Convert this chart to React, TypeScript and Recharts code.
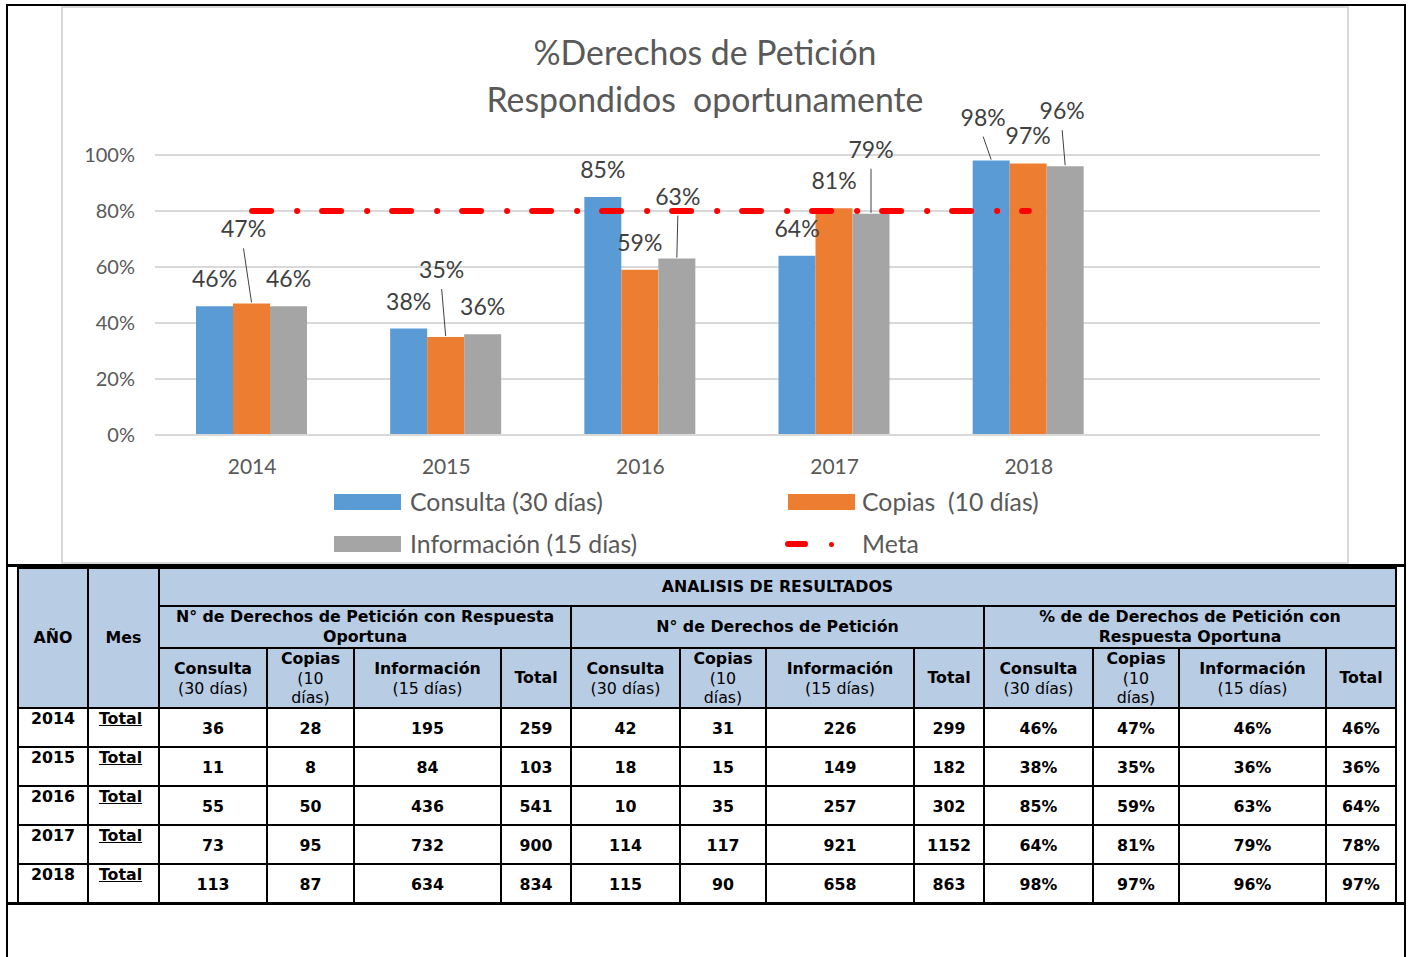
import React from 'react';
import {
  BarChart,
  Bar,
  Line,
  XAxis,
  YAxis,
  CartesianGrid,
  LabelList,
} from 'recharts';

const years = ['2014', '2015', '2016', '2017', '2018'];
const consultaPct = [46, 38, 85, 64, 98];
const copiasPct = [47, 35, 59, 81, 97];
const infoPct = [46, 36, 63, 79, 96];
const totalPct = [46, 36, 64, 78, 97];
const metaPct = 80;
const yTicks = [0, 0.2, 0.4, 0.6, 0.8, 1];

const respConsulta = [36, 11, 55, 73, 113];
const respCopias = [28, 8, 50, 95, 87];
const respInfo = [195, 84, 436, 732, 634];
const respTotal = [259, 103, 541, 900, 834];
const petConsulta = [42, 18, 10, 114, 115];
const petCopias = [31, 15, 35, 117, 90];
const petInfo = [226, 149, 257, 921, 658];
const petTotal = [299, 182, 302, 1152, 863];

const BLUE = '#5B9BD5';
const ORANGE = '#ED7D31';
const GRAY = '#A5A5A5';
const TEXT = '#595959';
const FONT = 'Lato, "Open Sans", sans-serif';

// the original axis leaves room for a sixth, empty category on the right
const data = [
  ...years.map((y, i) => ({
    year: y,
    consulta: consultaPct[i] / 100,
    copias: copiasPct[i] / 100,
    info: infoPct[i] / 100,
    meta: metaPct / 100,
  })),
  { year: '', consulta: null, copias: null, info: null, meta: null },
];

// label nudges (dx, dy) where Excel moved a label and drew a leader line
const nudges: Record<string, number[][]> = {
  consulta: [[0, 0], [0, 0], [0, 0], [0, 0], [-8, -16]],
  copias: [[-8, -47], [-4, -40], [0, 0], [0, 0], [0, 0]],
  info: [[0, 0], [0, 0], [1, -35], [0, -37], [-3, -28]],
};

const makeLabel = (key: string) => (props: any) => {
  const { x, y, width, value, index } = props;
  if (value == null) return null;
  const [dx, dy] = nudges[key][index] || [0, 0];
  const cx = x + width / 2;
  const lx = cx + dx;
  const ly = y - 28 + dy;
  return (
    <g>
      {dy !== 0 && (
        <line x1={lx} y1={ly + 20} x2={cx} y2={y - 1} stroke="#404040" strokeWidth={1} />
      )}
      <text
        x={lx}
        y={ly}
        textAnchor="middle"
        dominantBaseline="central"
        fill="#404040"
        fontSize={23}
        fontFamily={FONT}
      >
        {Math.round(value * 100)}%
      </text>
    </g>
  );
};

const pct = (v: number) => `${Math.round(v * 100)}%`;

const Swatch = ({ color, left, top }: { color: string; left: number; top: number }) => (
  <div style={{ position: 'absolute', left, top, width: 67, height: 16, background: color }} />
);

const LegendText = ({ text, left, top }: { text: string; left: number; top: number }) => (
  <div
    style={{
      position: 'absolute',
      left,
      top,
      fontFamily: FONT,
      fontSize: 24.8,
      color: TEXT,
      lineHeight: '30px',
      whiteSpace: 'pre',
    }}
  >
    {text}
  </div>
);

const cell: React.CSSProperties = {
  border: '2px solid #000',
  padding: 0,
  textAlign: 'center',
  verticalAlign: 'middle',
  lineHeight: '20px',
};
const head: React.CSSProperties = { ...cell, background: '#B8CCE4', fontWeight: 'bold' };

const SubHead = ({ a, b }: { a: string; b: string[] }) => (
  <td style={head}>
    <div>{a}</div>
    {b.map((t) => (
      <div key={t} style={{ fontWeight: 'normal', lineHeight: '19px' }}>{t}</div>
    ))}
  </td>
);

const ResultsTable = () => {
  const colWidths = [70, 71, 108, 87, 147, 70, 109, 86, 148, 70, 109, 86, 147, 70];
  const groupHead = (
    <>
      <SubHead a="Consulta" b={['(30 días)']} />
      <SubHead a="Copias" b={['(10', 'días)']} />
      <SubHead a="Información" b={['(15 días)']} />
      <td style={head}>Total</td>
    </>
  );
  return (
    <table
      style={{
        position: 'absolute',
        left: 17,
        top: 567,
        width: 1378,
        borderCollapse: 'collapse',
        tableLayout: 'fixed',
        fontFamily: '"DejaVu Sans", Verdana, sans-serif',
        fontSize: 15.8,
        color: '#000',
      }}
    >
      <colgroup>
        {colWidths.map((w, i) => (
          <col key={i} style={{ width: w }} />
        ))}
      </colgroup>
      <tbody>
        <tr style={{ height: 38 }}>
          <td style={head} rowSpan={3}>AÑO</td>
          <td style={head} rowSpan={3}>Mes</td>
          <td style={head} colSpan={12}>ANALISIS DE RESULTADOS</td>
        </tr>
        <tr style={{ height: 40 }}>
          <td style={{ ...head, padding: '0 10px' }} colSpan={4}>
            N° de Derechos de Petición con Respuesta Oportuna
          </td>
          <td style={head} colSpan={4}>N° de Derechos de Petición</td>
          <td style={{ ...head, padding: '0 40px' }} colSpan={4}>
            % de de Derechos de Petición con Respuesta Oportuna
          </td>
        </tr>
        <tr style={{ height: 60 }}>
          {groupHead}
          {groupHead}
          {groupHead}
        </tr>
        {years.map((y, i) => {
          const vals = [
            respConsulta[i], respCopias[i], respInfo[i], respTotal[i],
            petConsulta[i], petCopias[i], petInfo[i], petTotal[i],
            `${consultaPct[i]}%`, `${copiasPct[i]}%`, `${infoPct[i]}%`, `${totalPct[i]}%`,
          ];
          return (
            <tr key={y} style={{ height: 39 }}>
              <td style={{ ...cell, verticalAlign: 'top', fontWeight: 'bold' }}>{y}</td>
              <td
                style={{
                  ...cell,
                  verticalAlign: 'top',
                  fontWeight: 'bold',
                  textDecoration: 'underline',
                  paddingRight: 6,
                }}
              >
                Total
              </td>
              {vals.map((v, j) => (
                <td key={j} style={{ ...cell, fontWeight: 'bold', paddingTop: 2 }}>{v}</td>
              ))}
            </tr>
          );
        })}
      </tbody>
    </table>
  );
};

export default function App() {
  return (
    <div style={{ position: 'absolute', left: 0, top: 0, width: 1412, height: 957, background: '#fff' }}>
      {/* document frame */}
      <div
        style={{
          position: 'absolute',
          left: 6,
          top: 4,
          width: 1400,
          height: 970,
          border: '2px solid #000',
          boxSizing: 'border-box',
        }}
      />
      <div style={{ position: 'absolute', left: 6, top: 564, width: 1400, height: 3, background: '#000' }} />
      <div style={{ position: 'absolute', left: 6, top: 902, width: 1400, height: 3, background: '#000' }} />

      {/* chart box */}
      <div
        style={{
          position: 'absolute',
          left: 61,
          top: 6,
          width: 1288,
          height: 558,
          border: '2px solid #d9d9d9',
          boxSizing: 'border-box',
          background: '#fff',
        }}
      />
      <div
        style={{
          position: 'absolute',
          left: 62,
          top: 29,
          width: 1286,
          textAlign: 'center',
          fontFamily: FONT,
          fontSize: 33.8,
          color: TEXT,
          lineHeight: '47px',
          whiteSpace: 'pre',
        }}
      >
        <div>%Derechos de Petición</div>
        <div>Respondidos  oportunamente</div>
      </div>

      <div style={{ position: 'absolute', left: 62, top: 6 }}>
        <BarChart
          width={1286}
          height={558}
          data={data}
          margin={{ top: 149, right: 28, left: 13, bottom: 99 }}
          barCategoryGap={41}
          barGap={0}
        >
          <CartesianGrid vertical={false} stroke="#d9d9d9" strokeWidth={2} />
          <XAxis
            dataKey="year"
            tickLine={false}
            axisLine={{ stroke: '#d9d9d9', strokeWidth: 2 }}
            tick={{ fill: TEXT, fontSize: 21, fontFamily: FONT }}
            tickMargin={18}
            height={30}
          />
          <YAxis
            domain={[0, 1]}
            ticks={yTicks}
            tickFormatter={pct}
            tickLine={false}
            axisLine={false}
            tick={{ fill: TEXT, fontSize: 20, fontFamily: FONT }}
            tickMargin={14}
            width={80}
          />
          <Bar dataKey="consulta" fill={BLUE} isAnimationActive={false}>
            <LabelList dataKey="consulta" content={makeLabel('consulta')} />
          </Bar>
          <Bar dataKey="copias" fill={ORANGE} isAnimationActive={false}>
            <LabelList dataKey="copias" content={makeLabel('copias')} />
          </Bar>
          <Bar dataKey="info" fill={GRAY} isAnimationActive={false}>
            <LabelList dataKey="info" content={makeLabel('info')} />
          </Bar>
          <Line
            type="linear"
            dataKey="meta"
            stroke="#FF0000"
            strokeWidth={6}
            strokeLinecap="round"
            strokeDasharray="19 26 0.1 24.9"
            dot={false}
            activeDot={false}
            isAnimationActive={false}
          />
        </BarChart>
      </div>

      {/* legend */}
      <Swatch color={BLUE} left={334} top={494} />
      <LegendText text="Consulta (30 días)" left={410} top={487} />
      <Swatch color={ORANGE} left={788} top={494} />
      <LegendText text="Copias  (10 días)" left={862} top={487} />
      <Swatch color={GRAY} left={334} top={536} />
      <LegendText text="Información (15 días)" left={410} top={529} />
      <div
        style={{
          position: 'absolute',
          left: 785,
          top: 541,
          width: 23,
          height: 6,
          borderRadius: 3,
          background: '#FF0000',
        }}
      />
      <div
        style={{
          position: 'absolute',
          left: 829,
          top: 542,
          width: 5,
          height: 5,
          borderRadius: 3,
          background: '#FF0000',
        }}
      />
      <LegendText text="Meta" left={862} top={529} />

      <ResultsTable />
    </div>
  );
}
